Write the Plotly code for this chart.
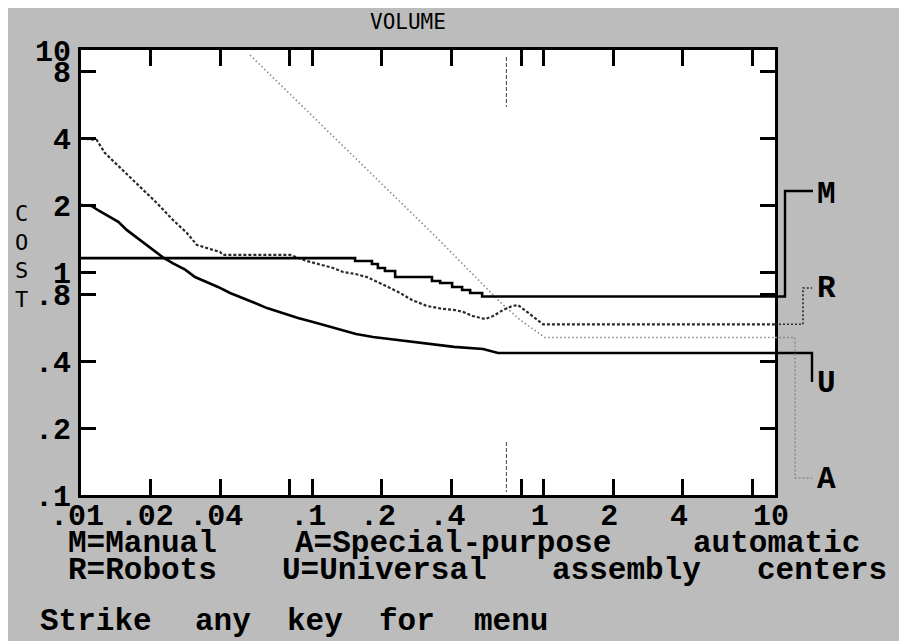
import math
import plotly.graph_objects as go

# ---------------- data ----------------
volume_M = [0.01, 0.153, 0.181, 0.192, 0.206, 0.228, 0.329, 0.357, 0.402, 0.444, 0.481, 0.542, 10]
cost_M = [1.16, 1.126, 1.092, 1.048, 1.016, 0.954, 0.916, 0.897, 0.861, 0.834, 0.809, 0.78, 0.78]

volume_U = [0.010, 0.0111, 0.0120, 0.0145, 0.0158, 0.0175, 0.0193, 0.0211, 0.0226, 0.0250,
            0.0282, 0.0311, 0.0350, 0.0391, 0.0441, 0.0502, 0.0565, 0.0637, 0.0732, 0.0867,
            0.1007, 0.1193, 0.1344, 0.1545, 0.1830, 0.2323, 0.3101, 0.4100, 0.5470, 0.635, 10]
cost_U = [2.01, 1.99, 1.89, 1.69, 1.55, 1.43, 1.33, 1.24, 1.17, 1.10,
          1.03, 0.954, 0.906, 0.861, 0.809, 0.768, 0.729, 0.692, 0.658, 0.624,
          0.599, 0.569, 0.552, 0.529, 0.513, 0.497, 0.482, 0.463, 0.453, 0.435, 0.435]

volume_R = [0.0100, 0.0117, 0.0127, 0.0160, 0.0213, 0.0250, 0.0287, 0.0317, 0.0350, 0.0399,
            0.0411, 0.0801, 0.0949, 0.1112, 0.1229, 0.1358, 0.1530, 0.1723, 0.1923, 0.2125,
            0.2394, 0.2698, 0.3132, 0.3673, 0.4140, 0.4482, 0.4952, 0.5579, 0.6042, 0.6674,
            0.7300, 0.7748, 0.8476, 0.9365, 0.994, 10]
cost_R = [4.0, 3.94, 3.44, 2.74, 2.05, 1.72, 1.505, 1.33, 1.29, 1.236,
          1.2, 1.2, 1.126, 1.081, 1.048, 1.005, 0.985, 0.954, 0.906, 0.861,
          0.809, 0.752, 0.707, 0.686, 0.678, 0.665, 0.637, 0.618, 0.637, 0.678,
          0.707, 0.714, 0.665, 0.612, 0.585, 0.585]

volume_A = [0.0538, 0.346, 0.648, 0.791, 1.014, 10]
cost_A = [9.49, 1.43, 0.737, 0.612, 0.51, 0.51]

cursor_volume = 0.69
cursor_top = [9.3, 5.55]
cursor_bottom = [0.173, 0.103]

x_tickvals = [0.01, 0.02, 0.04, 0.08, 0.1, 0.2, 0.4, 0.8, 1, 2, 4, 8, 10]
x_ticktext = [".01", ".02", ".04", "", ".1", ".2", ".4", "", "1", "2", "4", "", "10"]
y_tickvals = [0.1, 0.2, 0.4, 0.8, 1, 2, 4, 8, 10]
y_ticktext = [".1", ".2", ".4", ".8", "1", "2", "4", "8", "10"]

series_letters = ["M", "R", "U", "A"]
legend_line1 = ["M=Manual", "A=Special-purpose", "automatic"]
legend_line2 = ["R=Robots", "U=Universal", "assembly", "centers"]
legend_line3 = ["Strike", "any", "key", "for", "menu"]
x_title = "VOLUME"
y_title = "COST"

# ---------------- layout geometry ----------------
W, H = 907, 641
OFF = 8                      # page body margin seen in the screenshot
L, T = 73, 42
PW, PH = 694, 445
R_ = W - L - PW
B = H - T - PH
BG = "#bcbcbc"
MONO = "Liberation Mono"


def px2x(px):
    """screen pixel column -> paper x"""
    return (px - OFF - L) / PW


def py2y(py):
    """screen pixel row -> paper y"""
    return (T + PH - (py - OFF)) / PH


def ypaper(v):
    # y axis is log, range 10^-1 .. 10^1
    return (math.log10(v) + 1) / 2


fig = go.Figure()

fig.add_trace(go.Scatter(x=volume_A, y=cost_A, mode="lines",
                         line=dict(color="#8a8a8a", width=1.6, dash="1.5px,2.5px")))
fig.add_trace(go.Scatter(x=volume_R, y=cost_R, mode="lines",
                         line=dict(color="#2a2a2a", width=2.2, dash="3px,2px")))
fig.add_trace(go.Scatter(x=volume_U, y=cost_U, mode="lines",
                         line=dict(color="black", width=2.6)))
fig.add_trace(go.Scatter(x=volume_M, y=cost_M, mode="lines", line_shape="hv",
                         line=dict(color="black", width=2.6)))
for seg in (cursor_top, cursor_bottom):
    fig.add_trace(go.Scatter(x=[cursor_volume, cursor_volume], y=seg, mode="lines",
                             line=dict(color="#444444", width=1, dash="4px,2px")))

shapes = []
# leader lines from the series ends to the letters
last = {"M": cost_M[-1], "R": cost_R[-1], "U": cost_U[-1], "A": cost_A[-1]}
label_py = {"M": 191, "R": 288, "U": 382, "A": 478}
leader = {
    "M": dict(xs=[775, 785, 785, 813], color="black", width=2.4, dash="solid"),
    "R": dict(xs=[775, 803, 803, 812], color="#2a2a2a", width=1.6, dash="2px,2px"),
    "U": dict(xs=[775, 812, 812, 812], color="black", width=2.4, dash="solid"),
    "A": dict(xs=[775, 795, 795, 812], color="#8a8a8a", width=1.4, dash="2px,2px"),
}
for k in series_letters:
    spec = leader[k]
    y0 = ypaper(last[k])
    y1 = py2y(label_py[k])
    xs = [px2x(v) for v in spec["xs"]]
    path = f"M{xs[0]},{y0} L{xs[1]},{y0} L{xs[2]},{y1} L{xs[3]},{y1}"
    shapes.append(dict(type="path", xref="paper", yref="paper", path=path,
                       line=dict(color=spec["color"], width=spec["width"], dash=spec["dash"])))

annotations = []
label_font = dict(family=MONO, size=31, color="black", weight="bold")
label_center_py = {"M": 194, "R": 288, "U": 383, "A": 479}
for k in series_letters:
    annotations.append(dict(text=k, xref="paper", yref="paper", x=px2x(815),
                            y=py2y(label_center_py[k]), xanchor="left", yanchor="middle",
                            showarrow=False, font=label_font))

# axis titles
annotations.append(dict(text=x_title, xref="paper", yref="paper", x=px2x(408), y=py2y(22),
                        xanchor="center", yanchor="middle", showarrow=False,
                        font=dict(family="DejaVu Sans Mono", size=21, color="black")))
annotations.append(dict(text="<br>".join(list(y_title)), xref="paper", yref="paper",
                        x=px2x(22), y=py2y(256), xanchor="center", yanchor="middle",
                        showarrow=False, align="center",
                        font=dict(family="DejaVu Sans Mono", size=22, color="black")))

# bottom legend text, laid out on the screen's character grid
PITCH = 23.05
text_font = dict(family=MONO, size=31, color="black", weight="bold")


def place_words(words, start_px, center_py):
    col = 0
    for w in words:
        cx = start_px + (col + len(w) / 2) * PITCH
        annotations.append(dict(text=w, xref="paper", yref="paper", x=px2x(cx),
                                y=py2y(center_py), xanchor="center", yanchor="middle",
                                showarrow=False, font=text_font))
        col += len(w) + 1


place_words(legend_line1, 50, 543)
place_words(legend_line2, 50, 570)
place_words(legend_line3, 27, 621)

tick_font = dict(family=MONO, size=30, color="black", weight="bold")
fig.update_layout(
    width=W, height=H, autosize=False,
    margin=dict(l=L, r=R_, t=T, b=B, pad=0),
    paper_bgcolor=BG, plot_bgcolor="white",
    showlegend=False,
    shapes=shapes, annotations=annotations,
    xaxis=dict(type="log", range=[-2, 1], tickvals=x_tickvals, ticktext=x_ticktext,
               ticks="inside", ticklen=16, tickwidth=3, tickcolor="black",
               showline=True, linewidth=3, linecolor="black", mirror="ticks",
               showgrid=False, zeroline=False, tickfont=tick_font,
               ticklabelstandoff=-9, ticklabelshift=-4),
    yaxis=dict(type="log", range=[-1, 1], tickvals=y_tickvals, ticktext=y_ticktext,
               ticks="inside", ticklen=15, tickwidth=3, tickcolor="black",
               showline=True, linewidth=3, linecolor="black", mirror="ticks",
               showgrid=False, zeroline=False, tickfont=tick_font, ticklabelstandoff=1),
)

fig.write_html("out.html")
